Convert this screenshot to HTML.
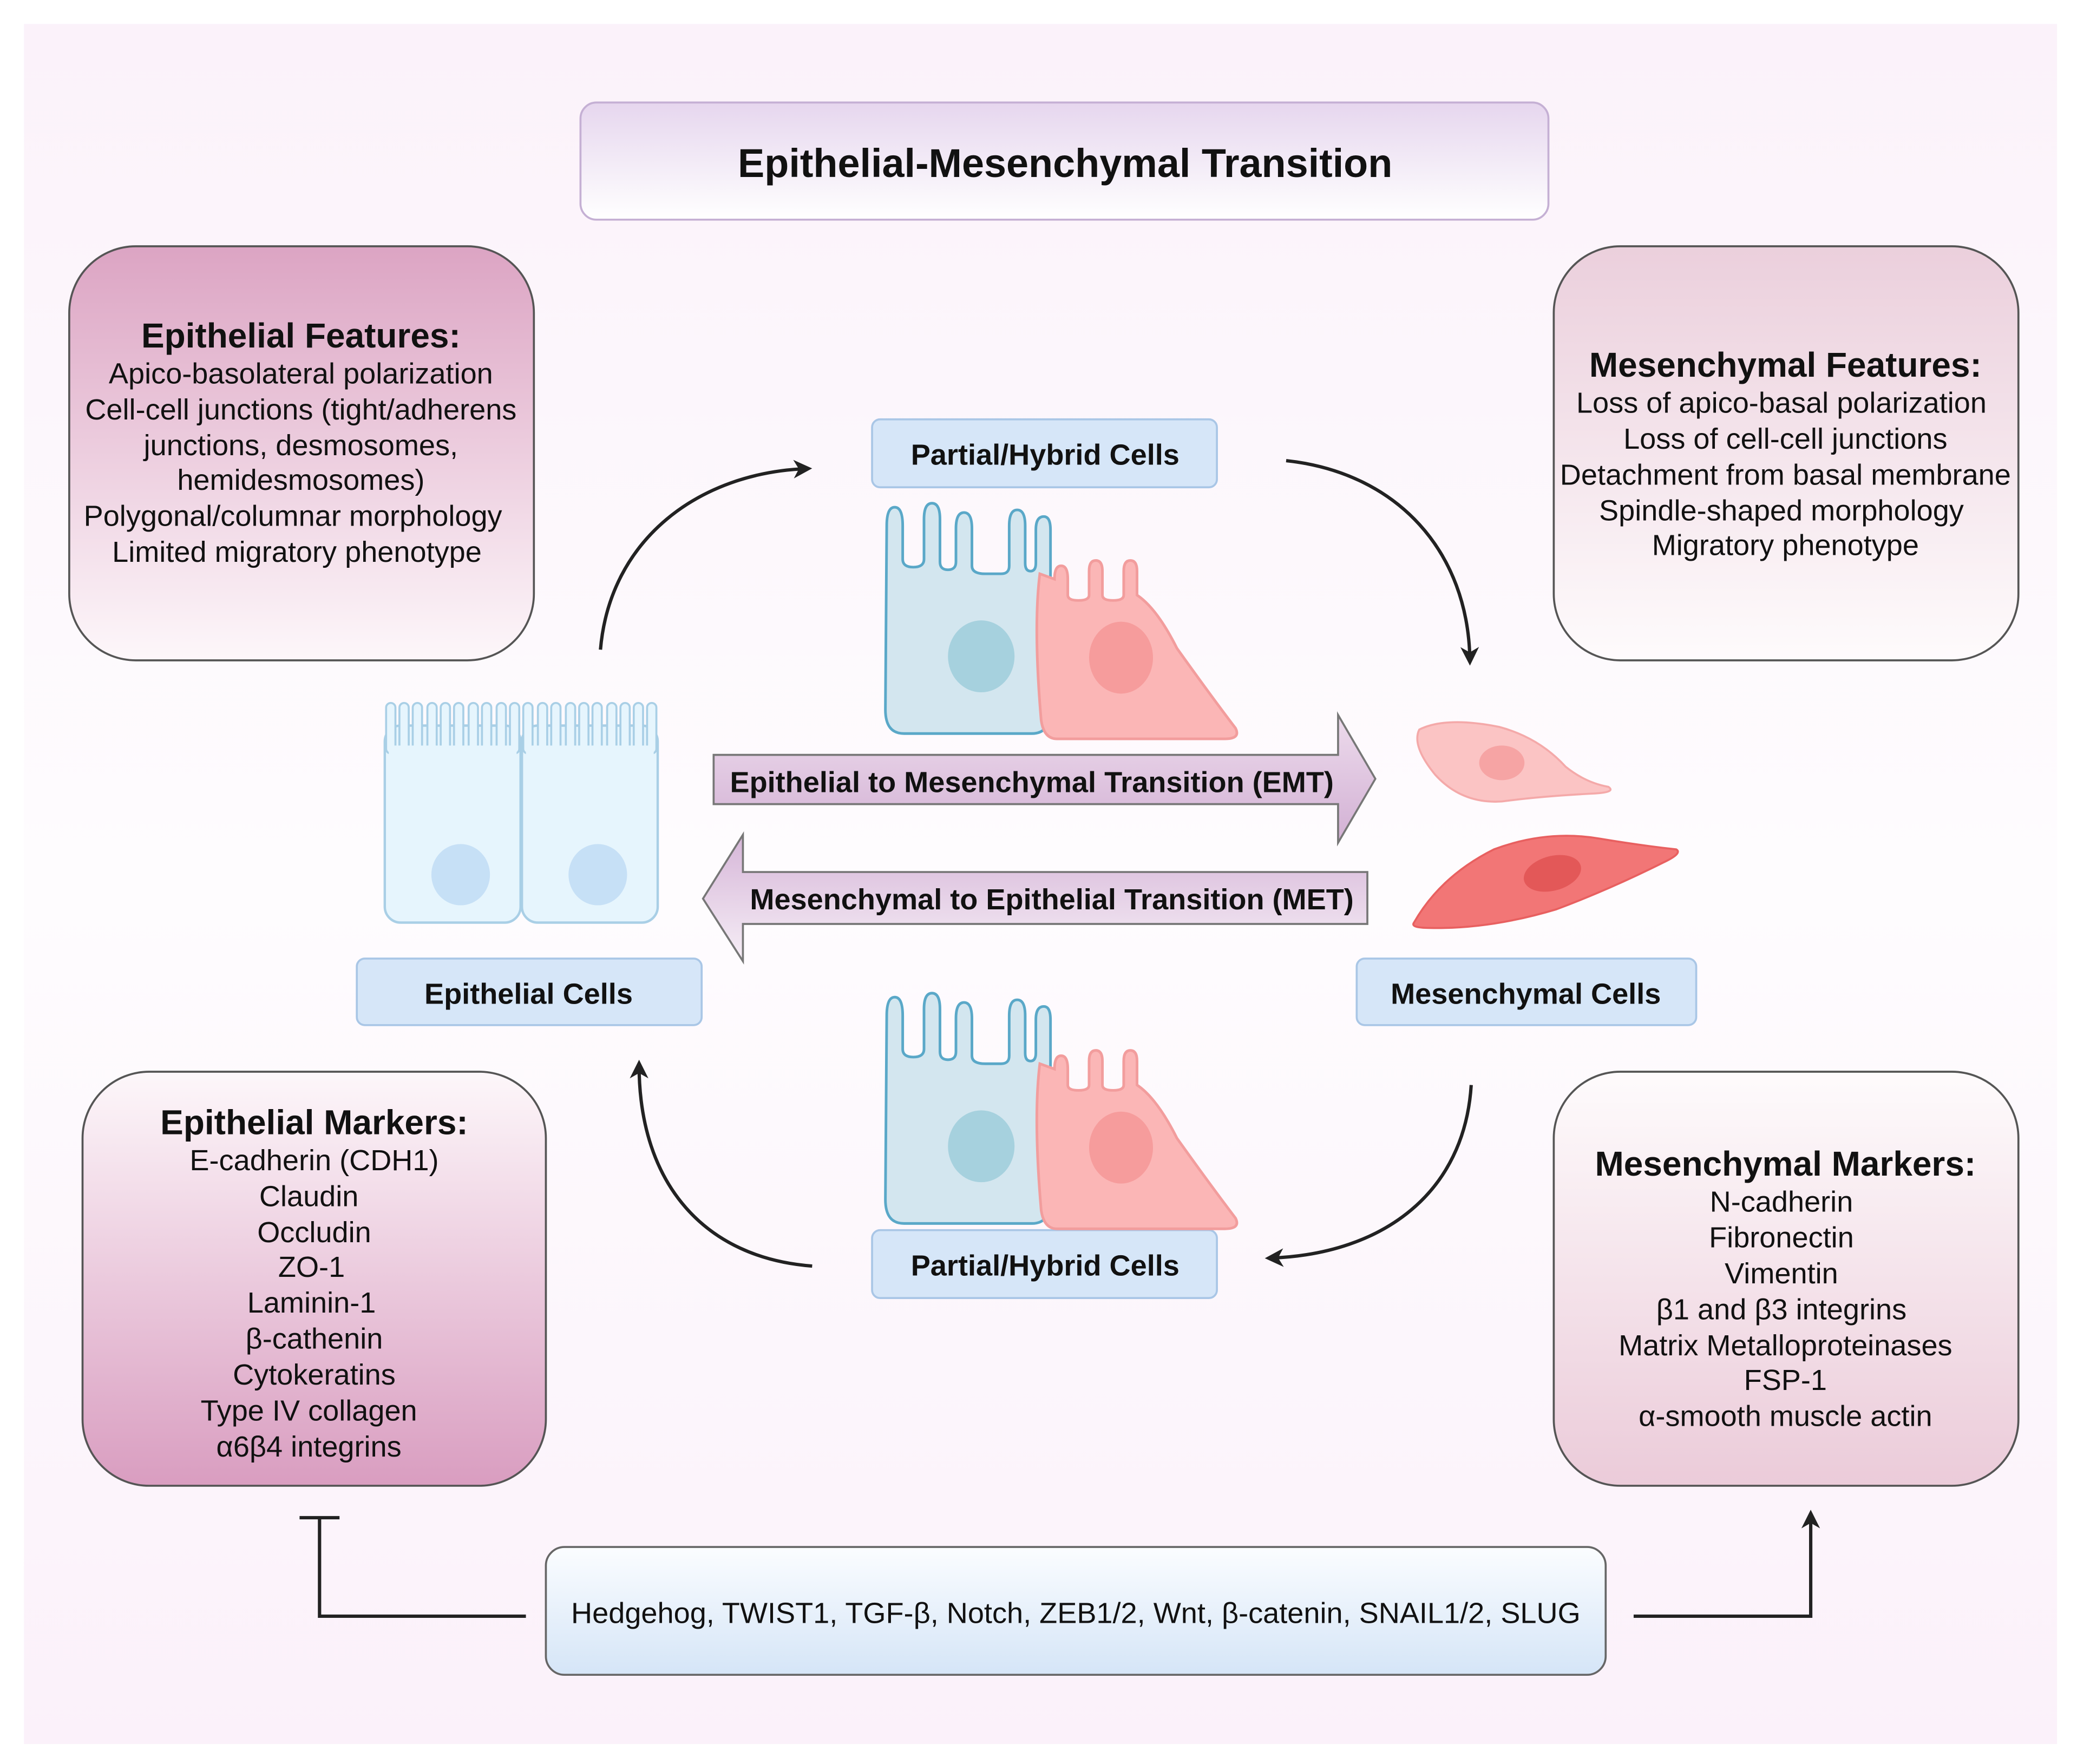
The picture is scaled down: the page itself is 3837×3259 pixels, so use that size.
<!DOCTYPE html>
<html><head><meta charset="utf-8"><style>
html,body{margin:0;padding:0;background:#fff}
svg{display:block}
text{font-family:"Liberation Sans",sans-serif;fill:#111}
.b{font-weight:bold}
</style></head><body>
<svg width="3837" height="3259" viewBox="0 0 1560 1325" preserveAspectRatio="none" xmlns="http://www.w3.org/2000/svg">
<defs>
<linearGradient id="bg" x1="0" y1="0" x2="0" y2="1"><stop offset="0" stop-color="#fbf2fa"/><stop offset="0.5" stop-color="#fefcfe"/><stop offset="1" stop-color="#fbf1fa"/></linearGradient>
<linearGradient id="tt" x1="0" y1="0" x2="0" y2="1"><stop offset="0" stop-color="#e6d6ee"/><stop offset="1" stop-color="#ffffff"/></linearGradient>
<linearGradient id="ef" x1="0" y1="0" x2="0" y2="1"><stop offset="0" stop-color="#dca4c3"/><stop offset="1" stop-color="#fdf7fa"/></linearGradient>
<linearGradient id="mf" x1="0" y1="0" x2="0" y2="1"><stop offset="0" stop-color="#ebcfdc"/><stop offset="1" stop-color="#fefbfc"/></linearGradient>
<linearGradient id="em" x1="0" y1="0" x2="0" y2="1"><stop offset="0" stop-color="#fdf7fa"/><stop offset="1" stop-color="#d99dc0"/></linearGradient>
<linearGradient id="mm" x1="0" y1="0" x2="0" y2="1"><stop offset="0" stop-color="#fefbfc"/><stop offset="1" stop-color="#ebcbd9"/></linearGradient>
<linearGradient id="bt" x1="0" y1="0" x2="0" y2="1"><stop offset="0" stop-color="#fbfdff"/><stop offset="1" stop-color="#d5e5f7"/></linearGradient>
<linearGradient id="ar" x1="0" y1="0" x2="0" y2="1"><stop offset="0" stop-color="#eddbec"/><stop offset="1" stop-color="#d2b0d4"/></linearGradient>
<linearGradient id="ar2" x1="0" y1="0" x2="0" y2="1"><stop offset="0" stop-color="#d6b6d8"/><stop offset="1" stop-color="#f6eef6"/></linearGradient>
<marker id="ah2" markerWidth="14" markerHeight="14" refX="10" refY="7" orient="auto" markerUnits="userSpaceOnUse"><path d="M0,0 L14,7 L0,14 L4,7 Z" fill="#222"/></marker>
<g id="hyb">
<path d="M666,395 q0,-14 6,-14 q6,0 6,14 v25 q0,6 8,6 q8,0 8,-6 v-30 q0,-12 6,-12 q6,0 6,12 v32 q0,6 6,6 q6,0 6,-6 v-25 q0,-12 6,-12 q6,0 6,12 v28 q0,6 10,6 h12 q6,0 6,-6 v-30 q0,-12 6,-12 q6,0 6,12 v28 q0,6 4,6 q4,0 4,-6 v-25 q0,-10 6,-10 q5,0 5,10 v135 q0,18 -14,18 h-96 q-14,0 -14,-18 Z" fill="#d3e6ef" stroke="#5aa8c8" stroke-width="2"/>
<ellipse cx="737" cy="493" rx="25" ry="27" fill="#a6d1de"/>
<path d="M792,435 q0,-10 5,-10 q5,0 5,10 v12 q0,4 8,4 q8,0 8,-4 v-18 q0,-8 5,-8 q5,0 5,8 v18 q0,4 8,4 q8,0 8,-4 v-18 q0,-8 5,-8 q5,0 5,8 v18 q15,10 30,40 q25,35 44,60 q4,8 -8,8 h-126 q-10,0 -12,-14 q-6,-70 -1,-110 Z" fill="#fbb6b6" stroke="#f29d9d" stroke-width="2"/>
<ellipse cx="842" cy="494" rx="24" ry="27" fill="#f69c9c"/>
</g>
</defs>
<rect width="1560" height="1325" fill="#fff"/>
<rect x="18" y="18" width="1527" height="1292" fill="url(#bg)"/>

<rect x="436" y="77" width="727" height="88" rx="12" fill="url(#tt)" stroke="#c5b0d4" stroke-width="1.5"/>
<text x="800" y="133" text-anchor="middle" class="b" font-size="30">Epithelial-Mesenchymal Transition</text>

<rect x="52" y="185" width="349" height="311" rx="50" fill="url(#ef)" stroke="#555" stroke-width="1.5"/>
<g text-anchor="middle" font-size="22">
<text x="226" y="261" class="b" font-size="26">Epithelial Features:</text>
<text x="226" y="288">Apico-basolateral polarization</text>
<text x="226" y="315">Cell-cell junctions (tight/adherens</text>
<text x="226" y="342">junctions, desmosomes,</text>
<text x="226" y="368">hemidesmosomes)</text>
<text x="220" y="395">Polygonal/columnar morphology</text>
<text x="223" y="422">Limited migratory phenotype</text>
</g>

<rect x="1167" y="185" width="349" height="311" rx="50" fill="url(#mf)" stroke="#555" stroke-width="1.5"/>
<g text-anchor="middle" font-size="22">
<text x="1341" y="283" class="b" font-size="26">Mesenchymal Features:</text>
<text x="1338" y="310">Loss of apico-basal polarization</text>
<text x="1341" y="337">Loss of cell-cell junctions</text>
<text x="1341" y="364">Detachment from basal membrane</text>
<text x="1338" y="391">Spindle-shaped morphology</text>
<text x="1341" y="417">Migratory phenotype</text>
</g>

<rect x="62" y="805" width="348" height="311" rx="50" fill="url(#em)" stroke="#555" stroke-width="1.5"/>
<g text-anchor="middle" font-size="22">
<text x="236" y="852" class="b" font-size="26">Epithelial Markers:</text>
<text x="236" y="879">E-cadherin (CDH1)</text>
<text x="232" y="906">Claudin</text>
<text x="236" y="933">Occludin</text>
<text x="234" y="959">ZO-1</text>
<text x="234" y="986">Laminin-1</text>
<text x="236" y="1013">β-cathenin</text>
<text x="236" y="1040">Cytokeratins</text>
<text x="232" y="1067">Type IV collagen</text>
<text x="232" y="1094">α6β4 integrins</text>
</g>

<rect x="1167" y="805" width="349" height="311" rx="50" fill="url(#mm)" stroke="#555" stroke-width="1.5"/>
<g text-anchor="middle" font-size="22">
<text x="1341" y="883" class="b" font-size="26">Mesenchymal Markers:</text>
<text x="1338" y="910">N-cadherin</text>
<text x="1338" y="937">Fibronectin</text>
<text x="1338" y="964">Vimentin</text>
<text x="1338" y="991">β1 and β3 integrins</text>
<text x="1341" y="1018">Matrix Metalloproteinases</text>
<text x="1341" y="1044">FSP-1</text>
<text x="1341" y="1071">α-smooth muscle actin</text>
</g>

<g fill="#d6e6f8" stroke="#a9c6e6" stroke-width="1.5">
<rect x="655" y="315" width="259" height="51" rx="6"/>
<rect x="268" y="720" width="259" height="50" rx="6"/>
<rect x="1019" y="720" width="255" height="50" rx="6"/>
<rect x="655" y="924" width="259" height="51" rx="6"/>
</g>
<g text-anchor="middle" font-size="22">
<text x="785" y="349" class="b">Partial/Hybrid Cells</text>
<text x="397" y="754" class="b">Epithelial Cells</text>
<text x="1146" y="754" class="b">Mesenchymal Cells</text>
<text x="785" y="958" class="b">Partial/Hybrid Cells</text>
</g>

<rect x="410" y="1162" width="796" height="96" rx="14" fill="url(#bt)" stroke="#666" stroke-width="1.5"/>
<text x="808" y="1219" text-anchor="middle" font-size="22">Hedgehog, TWIST1, TGF-β, Notch, ZEB1/2, Wnt, β-catenin, SNAIL1/2, SLUG</text>

<path d="M536,567 H1005 V537 L1033,585 L1005,633 V604 H536 Z" fill="url(#ar)" stroke="#777" stroke-width="1.5"/>
<text x="775" y="595" text-anchor="middle" class="b" font-size="22">Epithelial to Mesenchymal Transition (EMT)</text>
<path d="M1027,655 H558 V627 L528,675 L558,722 V694 H1027 Z" fill="url(#ar2)" stroke="#777" stroke-width="1.5"/>
<text x="790" y="683" text-anchor="middle" class="b" font-size="22">Mesenchymal to Epithelial Transition (MET)</text>

<g fill="none" stroke="#222" stroke-width="2.5">
<path d="M451,488 C458,405 525,355 606,352" marker-end="url(#ah2)"/>
<path d="M966,346 C1050,355 1103,415 1104,496" marker-end="url(#ah2)"/>
<path d="M1105,815 C1100,895 1040,942 954,945" marker-end="url(#ah2)"/>
<path d="M610,951 C530,945 480,890 480,800" marker-end="url(#ah2)"/>
<path d="M395,1214 H240 V1140 M225,1140 H255"/>
<path d="M1227,1214 H1360 V1138" marker-end="url(#ah2)"/>
</g>

<g fill="#e6f5fd" stroke="#a9cfe6" stroke-width="1.8">
<rect x="289" y="545" width="102" height="148" rx="12"/>
<rect x="392" y="545" width="102" height="148" rx="12"/>
</g>
<g fill="#e6f5fd" stroke="#a9cfe6" stroke-width="1.5">
<rect x="290" y="528" width="7" height="38" rx="3.5"/><rect x="300" y="528" width="7" height="38" rx="3.5"/><rect x="310" y="528" width="7" height="38" rx="3.5"/><rect x="321" y="528" width="7" height="38" rx="3.5"/><rect x="331" y="528" width="7" height="38" rx="3.5"/><rect x="341" y="528" width="7" height="38" rx="3.5"/><rect x="352" y="528" width="7" height="38" rx="3.5"/><rect x="362" y="528" width="7" height="38" rx="3.5"/><rect x="373" y="528" width="7" height="38" rx="3.5"/><rect x="383" y="528" width="7" height="38" rx="3.5"/>
<rect x="393" y="528" width="7" height="38" rx="3.5"/><rect x="404" y="528" width="7" height="38" rx="3.5"/><rect x="414" y="528" width="7" height="38" rx="3.5"/><rect x="425" y="528" width="7" height="38" rx="3.5"/><rect x="435" y="528" width="7" height="38" rx="3.5"/><rect x="445" y="528" width="7" height="38" rx="3.5"/><rect x="456" y="528" width="7" height="38" rx="3.5"/><rect x="466" y="528" width="7" height="38" rx="3.5"/><rect x="476" y="528" width="7" height="38" rx="3.5"/><rect x="486" y="528" width="7" height="38" rx="3.5"/>
</g>
<rect x="292" y="560" width="96" height="10" fill="#e6f5fd"/><rect x="395" y="560" width="96" height="10" fill="#e6f5fd"/>
<ellipse cx="346" cy="657" rx="22" ry="23" fill="#c6e0f6"/>
<ellipse cx="449" cy="657" rx="22" ry="23" fill="#c6e0f6"/>

<use href="#hyb"/>
<use href="#hyb" transform="translate(0,368)"/>

<path d="M1066,548 q20,-10 60,-2 q30,8 50,30 q15,12 32,15 q6,4 -10,5 q-40,2 -70,6 q-30,2 -50,-20 q-18,-22 -12,-34 Z" fill="#fbc4c4" stroke="#f4a9a9" stroke-width="1.5"/>
<ellipse cx="1128" cy="573" rx="17" ry="13" fill="#f6a4a4"/>
<path d="M1062,693 q20,-35 60,-55 q40,-15 80,-8 q30,5 57,8 q5,3 -10,10 q-40,20 -80,35 q-50,15 -95,14 q-15,0 -12,-4 Z" fill="#f27676" stroke="#e86060" stroke-width="1.5"/>
<ellipse cx="1166" cy="656" rx="22" ry="13" fill="#e35858" transform="rotate(-15 1166 656)"/>
</svg>
</body></html>
